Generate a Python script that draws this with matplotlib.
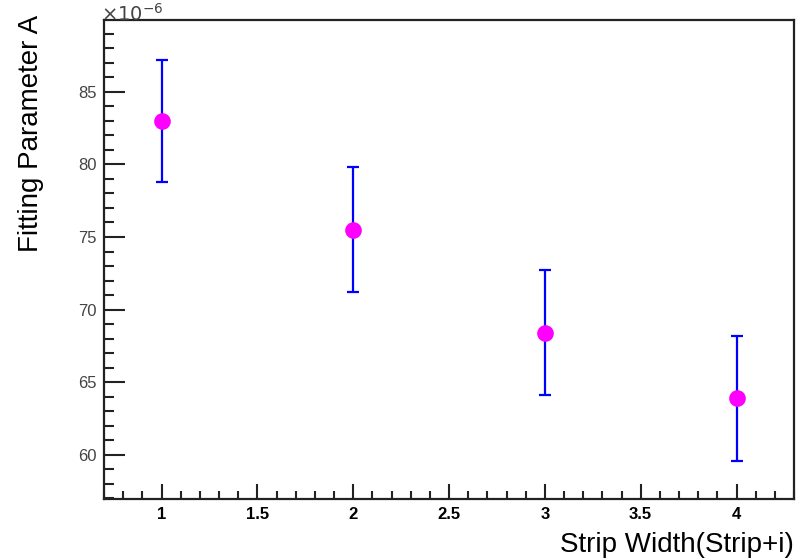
import matplotlib
matplotlib.use("Agg")
import matplotlib.pyplot as plt
from matplotlib.ticker import MultipleLocator, FormatStrFormatter

strip_width = [1, 2, 3, 4]
param_a = [83.0, 75.5, 68.4, 63.9]
param_a_err = [4.2, 4.3, 4.3, 4.3]

plt.rcParams['font.family'] = ['Liberation Sans', 'DejaVu Sans']

fig = plt.figure(figsize=(8.09, 5.6), dpi=100)
ax = fig.add_axes([104/809, 1-499/560, (794-104)/809, (499-20)/560])

ax.errorbar(strip_width, param_a, yerr=param_a_err, fmt='none',
            ecolor='#0000ff', elinewidth=1.6, capsize=4, capthick=1.6, zorder=2)
ax.plot(strip_width, param_a, 'o', color='#ff00ff', markersize=12,
        markeredgewidth=0, zorder=3)

ax.set_xlim(0.7, 4.3)
ax.set_ylim(56.95, 89.95)

ax.xaxis.set_major_locator(MultipleLocator(0.5))
ax.xaxis.set_minor_locator(MultipleLocator(0.1))
ax.yaxis.set_major_locator(MultipleLocator(5))
ax.yaxis.set_minor_locator(MultipleLocator(1))
ax.xaxis.set_major_formatter(FormatStrFormatter('%g'))
ax.yaxis.set_major_formatter(FormatStrFormatter('%g'))

ax.tick_params(axis='both', which='both', direction='in', top=False, right=False,
               width=1.5, color='#222222')
ax.tick_params(axis='x', which='major', length=11, labelsize=12, pad=6)
ax.tick_params(axis='x', which='minor', length=6)
ax.tick_params(axis='y', which='major', length=15, labelsize=12, pad=5, labelcolor='#444444')
ax.tick_params(axis='y', which='minor', length=7)
for lbl in ax.get_xticklabels():
    lbl.set_fontweight('bold')

for sp in ax.spines.values():
    sp.set_linewidth(1.6)
    sp.set_color('#222222')

ax.set_ylabel('Fitting Parameter A', fontsize=20, ha='right')
ax.yaxis.set_label_coords(-(104-44)/690, (499-15)/479)
ax.set_xlabel('Strip Width(Strip+i)', fontsize=20, ha='right', va='top')
ax.xaxis.set_label_coords(1.0, -(532-499)/479)

fig.text(101/809, 1-21/560, r'$\times10^{-6}$', fontsize=14, color='#444444',
         ha='left', va='baseline')

fig.savefig('out.png', dpi=100)
